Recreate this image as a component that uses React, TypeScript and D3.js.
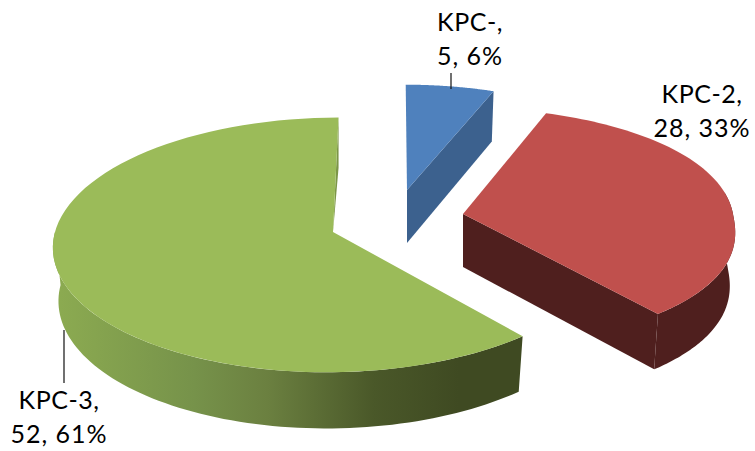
import React from "react";
import * as d3 from "d3";

// Carbapenemase gene types and their isolate counts
const names = ["KPC-", "KPC-2", "KPC-3"];
const counts = [5, 28, 52];

const topColors = ["#4f81bd", "#c0504d", "#9bbb59"];
const wallColors = ["#3c618e", "#4f1f1e", "url(#greenWall)"];

// Apex of each exploded wedge and the shape of its top outline
const apexX = [407, 463, 333];
const apexY = [190, 214, 232];
const radiiX = [266, 270, 278];
const radiiY = [116, 117.5, 126];
const roundness = [1, 0.9, 1]; // below 1 the outline gets fuller on the sides

const VANISH_X = 393; // horizontal vanishing point of the perspective
const PERSPECTIVE = 0.1016;
const DEPTH = 53;
const BOTTOM_SHRINK = 0.98;

// Only the part of the outer wall that turns towards the viewer gets drawn
const FRONT_FROM = Math.PI * 0.45;
const FRONT_TO = Math.PI * 1.5;

const greenStops: [string, string][] = [
  ["0", "#8cab51"],
  ["0.33", "#76924a"],
  ["0.5", "#6b8040"],
  ["0.75", "#4a5829"],
  ["0.95", "#3f4a22"],
];

type Pt = [number, number];

// Projects a polar point of wedge i onto the screen; bottom=true gives the lower face.
function project(i: number, theta: number, radius: number, bottom: boolean): Pt {
  const c = Math.cos(theta);
  const s = 1 / (1 + PERSPECTIVE * c * radius);
  const k = bottom ? BOTTOM_SHRINK : 1;
  const shapedCos = Math.sign(c) * Math.pow(Math.abs(c), roundness[i]);
  const x = VANISH_X + (apexX[i] + radiiX[i] * radius * k * Math.sin(theta) - VANISH_X) * s;
  const y = apexY[i] + (bottom ? DEPTH * s : 0) - radiiY[i] * radius * k * shapedCos * s;
  return [x, y];
}

function rim(i: number, a0: number, a1: number, bottom: boolean): Pt[] {
  const steps = 80;
  return d3.range(steps + 1).map((n) => project(i, a0 + ((a1 - a0) * n) / steps, 1, bottom));
}

const polygon = d3.line<Pt>().curve(d3.curveLinearClosed);

const arcs = d3
  .pie<number>()
  .sort(null)
  .startAngle(0)
  .endAngle(Math.PI * 2)(counts);

const total = d3.sum(counts);

// Label blocks: anchor centre and first baseline, with the leader drawn separately
const labelX = [470, 702, 59];
const labelY = [31, 103, 409];
const LINE_HEIGHT = 34;
const leaders: [number, number, number, number][] = [
  [451, 73, 451, 89],
  [64, 330, 64, 383],
];

export default function App() {
  return (
    <svg
      width={755}
      height={451}
      viewBox="0 0 755 451"
      style={{ position: "absolute", left: 0, top: 0, background: "#fff" }}
    >
      <defs>
        <linearGradient id="greenWall" gradientUnits="userSpaceOnUse" x1={55} x2={480} y1={0} y2={0}>
          {greenStops.map(([o, c]) => (
            <stop key={o} offset={o} stopColor={c} />
          ))}
        </linearGradient>
      </defs>

      {arcs.map((a, i) => {
        const { startAngle: a0, endAngle: a1 } = a;
        const w0 = Math.max(a0, FRONT_FROM);
        const w1 = Math.min(a1, FRONT_TO);
        const wall = w1 > w0 ? [...rim(i, w0, w1, false), ...rim(i, w0, w1, true).reverse()] : [];
        // Radial cut face; the large wedge only shows a sliver of it beside its top edge
        const cut: Pt[] =
          i < 2
            ? [
                project(i, a1, 0, false),
                project(i, a1, 1, false),
                project(i, a1, 1, true),
                project(i, a1, 0, true),
              ]
            : [project(i, a1, 0, false), project(i, a1, 1, false), project(i, a1, 1, true)];
        const face = [project(i, a0, 0, false), ...rim(i, a0, a1, false)];
        return (
          <g key={names[i]}>
            {wall.length > 0 && <path d={polygon(wall) ?? ""} fill={wallColors[i]} />}
            <path d={polygon(cut) ?? ""} fill={i < 2 ? wallColors[i] : "#7c9647"} />
            <path d={polygon(face) ?? ""} fill={topColors[i]} />
          </g>
        );
      })}

      {leaders.map(([x1, y1, x2, y2]) => (
        <line key={y1} x1={x1} y1={y1} x2={x2} y2={y2} stroke="#111" strokeWidth={1.2} />
      ))}

      {names.map((n, i) => (
        <text
          key={n}
          x={labelX[i]}
          y={labelY[i]}
          textAnchor="middle"
          fontFamily="Lato, 'Open Sans', sans-serif"
          fontSize={25}
          fill="#000"
        >
          <tspan x={labelX[i]} letterSpacing={0.5}>{n},</tspan>
          <tspan x={labelX[i]} dy={LINE_HEIGHT} letterSpacing={1}>
            {`${counts[i]}, ${Math.round((counts[i] / total) * 100)}%`}
          </tspan>
        </text>
      ))}
    </svg>
  );
}
